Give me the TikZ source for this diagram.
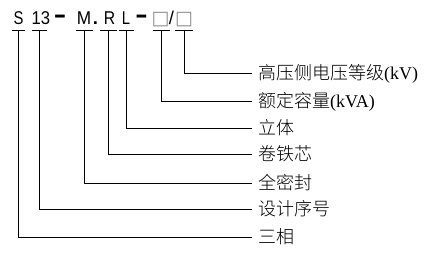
\documentclass[tikz,border=0pt]{standalone}
\usepackage{fontspec}
\setmainfont{Liberation Serif}
\newfontfamily\codefont{Liberation Sans}
\newfontfamily\cjkfont{Noto Sans CJK SC Light}
\newfontfamily\symfont{DejaVu Sans}
\begin{document}
\begin{tikzpicture}[x=1pt,y=-1pt]
\tikzset{
  codechar/.style={anchor=base, inner sep=0pt, text depth=5pt, text height=13pt, font=\fontsize{18.5}{18.5}\codefont},
  boxchar/.style={codechar, text=black!45, font=\fontsize{19}{19}\symfont},
  lab/.style={anchor=west, inner xsep=6pt, inner ysep=0pt, text height=14pt, text depth=0.5pt, font=\fontsize{18}{18}\selectfont},
  lead/.style={line width=0.9pt, black},
}
\useasboundingbox (0,0) rectangle (437,256);
% code characters
\node[codechar] (cS)  at (18.5,25) {\scalebox{0.8}[1]{S}};
\node[codechar] (c13) at (41,25)   {\scalebox{0.9}[1]{13}};
\node[codechar] (d1)  at (60,25)   {\scalebox{1.05}[1.6]{\bfseries –}};
\node[codechar] (cM)  at (84,25)   {\scalebox{0.93}[1]{M}};
\node[codechar] (dot) at (95.5,25) {\bfseries .};
\node[codechar] (cR)  at (109.5,25){\scalebox{0.85}[1]{R}};
\node[codechar] (cL)  at (126,25)  {\scalebox{0.8}[1]{L}};
\node[codechar] (d2)  at (141.5,25){\scalebox{1.05}[1.6]{\bfseries –}};
\node[boxchar]  (cB1) at (160.5,25){□};
\node[codechar] (sl)  at (171.5,25){/};
\node[boxchar]  (cB2) at (184,25)  {□};
% bar centres
\coordinate (bS)  at (18.5,30);
\coordinate (b13) at (39.5,30);
\coordinate (bM)  at (84.5,30);
\coordinate (bR)  at (108.5,30);
\coordinate (bL)  at (126.5,30);
\coordinate (bB1) at (161.5,30);
\coordinate (bB2) at (184,30);
\foreach \c/\w in {bS/6.5, b13/7.5, bM/8.5, bR/8.5, bL/7.5, bB1/8.5, bB2/9}
  \draw[lead] ([xshift=-\w pt]\c) -- ([xshift=\w pt]\c);
% labels
\node[lab] (tB2) at (252,73)  {{\cjkfont 高压侧电压等级}(kV)};
\node[lab] (tB1) at (252,101) {{\cjkfont 额定容量}(kVA)};
\node[lab] (tL)  at (252,128) {\cjkfont 立体};
\node[lab] (tR)  at (252,154) {\cjkfont 卷铁芯};
\node[lab] (tM)  at (252,183) {\cjkfont 全密封};
\node[lab] (t13) at (252,209) {\cjkfont 设计序号};
\node[lab] (tS)  at (252,237) {\cjkfont 三相};
% connectors
\draw[lead] (bB2) |- (tB2.west);
\draw[lead] (bB1) |- (tB1.west);
\draw[lead] (bL)  |- (tL.west);
\draw[lead] (bR)  |- (tR.west);
\draw[lead] (bM)  |- (tM.west);
\draw[lead] (b13) |- (t13.west);
\draw[lead] (bS)  |- (tS.west);
\end{tikzpicture}
\end{document}
